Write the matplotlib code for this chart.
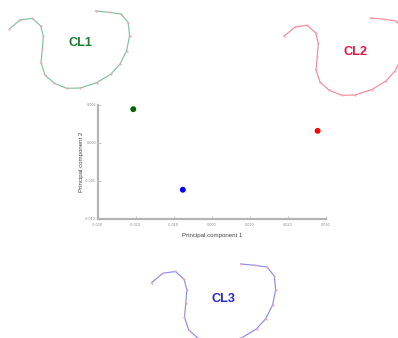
import matplotlib
matplotlib.use("Agg")
import matplotlib.pyplot as plt
import numpy as np

# ---- scatter data (principal components) ----
clusters = ["CL1", "CL2", "CL3"]
pc1 = [-0.0206, 0.0278, -0.0076]
pc2 = [0.00445, 0.0016, -0.00615]
point_colors = ["#006400", "#ff0000", "#0000ff"]

x_ticks = [-0.030, -0.020, -0.010, 0.000, 0.010, 0.020, 0.030]
y_ticks = [-0.010, -0.005, 0.000, 0.005]

# ---- contour shape (pixel units, shared by the three insets) ----
shape_x = [9.3, 20.0, 32.3, 40.7, 43.3, 42.3, 41.0, 45.0, 54.3, 66.7, 80.0,
           97.0, 111.0, 120.0, 126.7, 129.5, 128.3, 121.0, 109.5, 95.5]
shape_y = [29.0, 20.0, 18.3, 26.0, 36.0, 49.3, 62.7, 75.0, 83.3, 88.3, 88.0,
           82.5, 74.0, 64.0, 50.5, 36.0, 22.7, 14.0, 12.3, 11.0]
inset_dx = [0.0, 275.0, 142.5]
inset_dy = [0.0, 7.0, 253.5]
inset_scale = [1.0, 1.0, 1.03]
label_x = [80.0, 355.0, 223.5]
label_y = [43.5, 52.0, 298.7]
line_colors = ["#80c29e", "#f28a9c", "#8c8cf2"]
label_colors = ["#1e7a34", "#e8163e", "#2a2ad2"]

W, H = 398, 338
fig = plt.figure(figsize=(W / 100, H / 100), dpi=100)
fig.patch.set_facecolor("white")

# overlay for the contour insets
ov = fig.add_axes([0, 0, 1, 1])
ov.set_xlim(0, W)
ov.set_ylim(H, 0)
ov.axis("off")
sx = np.array(shape_x)
sy = np.array(shape_y)
for i, name in enumerate(clusters):
    s = inset_scale[i]
    x0, y0 = sx[0], sy[0]
    xs = x0 + (sx - x0) * s + inset_dx[i]
    ys = y0 + (sy - y0) * s + inset_dy[i]
    ov.plot(xs, ys, color=line_colors[i], lw=0.85, zorder=2)
    ov.plot(xs, ys, ls="none", marker="o", ms=1.6, mfc="#f4a8b0",
            mec="none", zorder=3)
    ov.text(label_x[i], label_y[i], name, color=label_colors[i],
            fontsize=9.2, fontweight="bold", family="Liberation Sans",
            ha="center", va="center")

# main scatter axes
ax = fig.add_axes([97.5 / W, 1 - 219 / H, (326 - 97.5) / W, (219 - 105) / H])
ax.set_facecolor("none")
ax.scatter(pc1, pc2, c=point_colors, s=18, zorder=3, edgecolors="none")
ax.set_xlim(x_ticks[0], x_ticks[-1])
ax.set_ylim(y_ticks[0], y_ticks[-1])
ax.set_xticks(x_ticks)
ax.set_yticks(y_ticks)
ax.set_xticklabels([f"{v:.3f}" for v in x_ticks])
ax.set_yticklabels([f"{v:.3f}" for v in y_ticks])
for sp in ["top", "right"]:
    ax.spines[sp].set_visible(False)
for sp in ["left", "bottom"]:
    ax.spines[sp].set_color("#b4b4b4")
    ax.spines[sp].set_linewidth(1.6)
ax.tick_params(axis="both", direction="in", length=2, width=0.5,
               color="#b4b4b4", labelsize=2.4, labelcolor="#888888")
ax.tick_params(axis="x", pad=3)
ax.tick_params(axis="y", pad=1)
ax.set_xlabel("Principal component 1", fontsize=4.4, color="#444444",
              family="Liberation Sans", labelpad=4)
ax.set_ylabel("Principal component 2", fontsize=4.4, color="#444444",
              family="Liberation Sans", labelpad=1)

fig.savefig("out.png", dpi=100, facecolor="white")
